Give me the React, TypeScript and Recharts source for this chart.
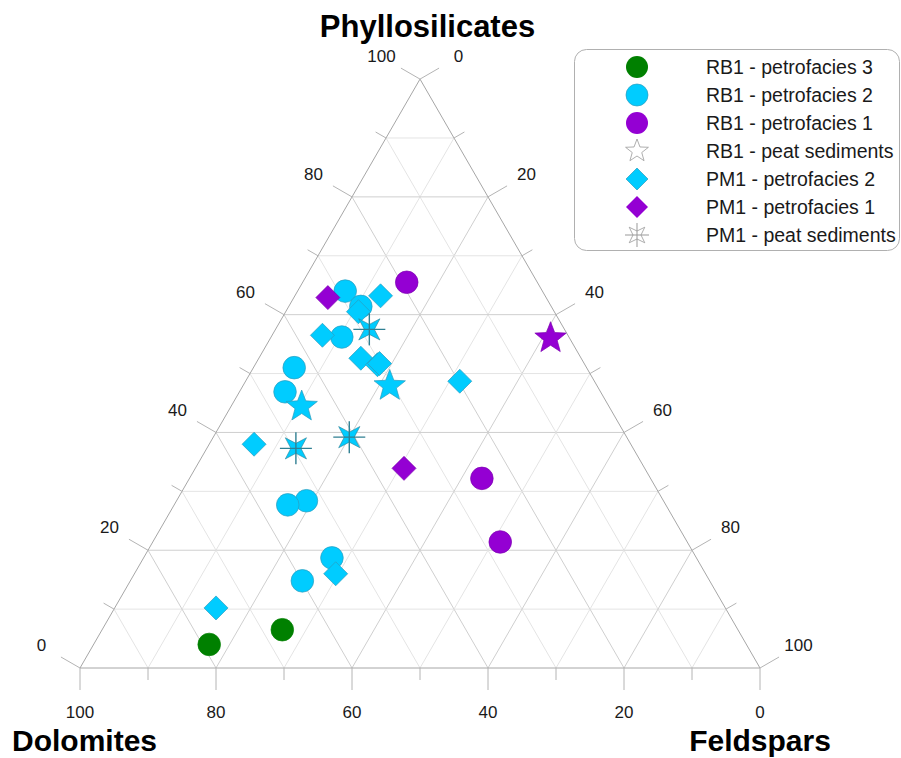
import React from "react";
import { ScatterChart, Scatter, XAxis, YAxis, ReferenceLine } from "recharts";

// samples as [dolomites, feldspars, phyllosilicates] in %
const rb1Petrofacies3 = [
  [79, 17, 4],
  [67, 26.5, 6.5],
];
const rb1Petrofacies2 = [
  [29, 7, 64],
  [28, 10.6, 61.4],
  [33.4, 10.4, 56.2],
  [43, 6, 51],
  [46.4, 6.7, 46.9],
  [52.5, 19.1, 28.4],
  [55.6, 16.7, 27.7],
  [53.6, 27.7, 18.7],
  [59.9, 25.3, 14.8],
];
const rb1Petrofacies1 = [
  [19.2, 15.3, 65.5],
  [24.8, 43, 32.2],
  [27.5, 51.1, 21.4],
];
// RB1 peat sediments, split by the colour of the facies they sit in
const rb1PeatViolet = [[2.8, 41.2, 56]];
const rb1PeatCyan = [
  [45.2, 10.4, 44.4],
  [30.5, 21.6, 47.9],
];
const pm1Petrofacies2 = [
  [24.2, 12.6, 63.2],
  [28.8, 10.7, 60.5],
  [36.1, 7.4, 56.5],
  [32.4, 15, 52.6],
  [30.5, 18, 51.5],
  [30.1, 18.2, 51.7],
  [19.8, 31.5, 48.7],
  [55.4, 6.6, 38],
  [54.4, 29.6, 16],
  [74.9, 14.9, 10.2],
];
const pm1Petrofacies1 = [
  [32.1, 5, 62.9],
  [35.4, 30.7, 33.9],
];
const pm1Peat = [
  [28.7, 13.8, 57.5],
  [40.8, 20, 39.2],
  [49.6, 13.1, 37.3],
];

const gridSteps = [10, 20, 30, 40, 50, 60, 70, 80, 90];
const tickSteps = [0, 10, 20, 30, 40, 50, 60, 70, 80, 90, 100];
const tickLabels = [0, 20, 40, 60, 80, 100];

const legendLabels = [
  "RB1 - petrofacies 3",
  "RB1 - petrofacies 2",
  "RB1 - petrofacies 1",
  "RB1 - peat sediments",
  "PM1 - petrofacies 2",
  "PM1 - petrofacies 1",
  "PM1 - peat sediments",
];

const W = 901;
const H = 758;
const PX = 6.8; // px per percent
const X0 = 80;
const Y0 = 668;
const S3 = Math.sqrt(3) / 2;
const FONT = "'Liberation Sans', Arial, sans-serif";

const GREEN = "#008000";
const CYAN = "#00ccff";
const VIOLET = "#9400d3";
const CYAN_EDGE = "#2b9cbd";
const VIOLET_EDGE = "#7d00b0";

const xy = (d: number, f: number, p: number) => ({ x: f + p / 2, y: p * S3 });
const toPoints = (rows: number[][]) => rows.map(([d, f, p]) => xy(d, f, p));

const starPoints = (cx: number, cy: number, n: number, R: number, r: number, rot = -90) => {
  const pts: string[] = [];
  for (let i = 0; i < n * 2; i++) {
    const a = ((rot + (i * 180) / n) * Math.PI) / 180;
    const rad = i % 2 === 0 ? R : r;
    pts.push(`${cx + rad * Math.cos(a)},${cy + rad * Math.sin(a)}`);
  }
  return pts.join(" ");
};

const circleShape = (fill: string, stroke: string) => (p: any) => (
  <circle cx={p.cx} cy={p.cy} r={11.3} fill={fill} stroke={stroke} strokeWidth={0.7} />
);
const diamondShape = (fill: string, stroke: string) => (p: any) => (
  <polygon
    points={`${p.cx},${p.cy - 12} ${p.cx + 12},${p.cy} ${p.cx},${p.cy + 12} ${p.cx - 12},${p.cy}`}
    fill={fill}
    stroke={stroke}
    strokeWidth={0.7}
  />
);
const starShape = (fill: string, stroke: string) => (p: any) => (
  <polygon points={starPoints(p.cx, p.cy, 5, 16.5, 7)} fill={fill} stroke={stroke} strokeWidth={0.7} />
);
const spikeStar = (cx: number, cy: number, fill: string, line: string) => (
  <g>
    <polygon points={starPoints(cx, cy, 4, 15, 5, -45)} fill={fill} stroke={line} strokeWidth={0.6} />
    <line x1={cx - 16} y1={cy} x2={cx + 16} y2={cy} stroke={line} strokeWidth={1.4} />
    <line x1={cx} y1={cy - 16} x2={cx} y2={cy + 16} stroke={line} strokeWidth={1.4} />
  </g>
);
const spikeShape = (p: any) => spikeStar(p.cx, p.cy, CYAN, "#2f7f92");

// grid segments
const gridLines: { a: { x: number; y: number }; b: { x: number; y: number }; v: number }[] = [];
gridSteps.forEach((v) => {
  gridLines.push({ a: xy(100 - v, 0, v), b: xy(0, 100 - v, v), v }); // const phyllo
  gridLines.push({ a: xy(100 - v, v, 0), b: xy(0, v, 100 - v), v }); // const feldspar
  gridLines.push({ a: xy(v, 100 - v, 0), b: xy(v, 0, 100 - v), v }); // const dolomite
});
const outline = [
  [xy(100, 0, 0), xy(0, 100, 0)],
  [xy(100, 0, 0), xy(0, 0, 100)],
  [xy(0, 100, 0), xy(0, 0, 100)],
];

// axis ticks: base point + outward direction
const MAJOR = 22 / PX;
const MINOR = 12 / PX;
const LABEL_OFF = 44.5 / PX;
const axisDefs = [
  { base: (v: number) => xy(v, 100 - v, 0), dir: { x: 0, y: -1 }, off: 44 / PX },
  { base: (v: number) => xy(100 - v, 0, v), dir: { x: -S3, y: 0.5 }, off: LABEL_OFF },
  { base: (v: number) => xy(0, v, 100 - v), dir: { x: S3, y: 0.5 }, off: LABEL_OFF },
];
const tickLines = axisDefs.flatMap((ax) =>
  tickSteps.map((v) => {
    const b = ax.base(v);
    const len = v % 20 === 0 ? MAJOR : MINOR;
    return { a: b, b: { x: b.x + ax.dir.x * len, y: b.y + ax.dir.y * len } };
  })
);
const labelData = axisDefs.flatMap((ax) =>
  tickLabels.map((v) => {
    const b = ax.base(v);
    return { x: b.x + ax.dir.x * ax.off, y: b.y + ax.dir.y * ax.off, label: String(v) };
  })
);

const labelShape = (p: any) => (
  <text
    x={p.cx}
    y={p.cy}
    textAnchor="middle"
    dominantBaseline="central"
    fontFamily={FONT}
    fontSize={17}
    fill="#1a1a1a"
  >
    {p.payload.label}
  </text>
);

const legendIcon = (i: number, cx: number, cy: number) => {
  switch (i) {
    case 0:
      return <circle cx={cx} cy={cy} r={11} fill={GREEN} />;
    case 1:
      return <circle cx={cx} cy={cy} r={11} fill={CYAN} stroke={CYAN_EDGE} strokeWidth={0.7} />;
    case 2:
      return <circle cx={cx} cy={cy} r={11} fill={VIOLET} />;
    case 3:
      return <polygon points={starPoints(cx, cy, 5, 12, 5)} fill="#fff" stroke="#999" strokeWidth={0.8} />;
    case 4:
      return (
        <polygon
          points={`${cx},${cy - 11} ${cx + 11},${cy} ${cx},${cy + 11} ${cx - 11},${cy}`}
          fill={CYAN}
          stroke={CYAN_EDGE}
          strokeWidth={0.7}
        />
      );
    case 5:
      return (
        <polygon
          points={`${cx},${cy - 11} ${cx + 11},${cy} ${cx},${cy + 11} ${cx - 11},${cy}`}
          fill={VIOLET}
        />
      );
    default:
      return (
        <g>
          <polygon points={starPoints(cx, cy, 4, 11, 4, -45)} fill="#fff" stroke="#999" strokeWidth={0.8} />
          <line x1={cx - 12} y1={cy} x2={cx + 12} y2={cy} stroke="#999" strokeWidth={1} />
          <line x1={cx} y1={cy - 12} x2={cx} y2={cy + 12} stroke="#999" strokeWidth={1} />
        </g>
      );
  }
};

export default function App() {
  return (
    <div style={{ position: "absolute", left: 0, top: 0, width: W, height: H, background: "#fff" }}>
      <ScatterChart width={W} height={H} margin={{ top: 0, right: 0, bottom: 0, left: 0 }}>
        <XAxis type="number" dataKey="x" domain={[-X0 / PX, (W - X0) / PX]} hide allowDataOverflow />
        <YAxis type="number" dataKey="y" domain={[-(H - Y0) / PX, Y0 / PX]} hide allowDataOverflow />
        {gridLines.map((g, i) => (
          <ReferenceLine
            key={`g${i}`}
            segment={[g.a, g.b]}
            stroke={g.v % 20 === 0 ? "#cfcfcf" : "#e4e4e4"}
            strokeWidth={1}
            ifOverflow="visible"
          />
        ))}
        {outline.map((s, i) => (
          <ReferenceLine key={`o${i}`} segment={s} stroke="#a6a6a6" strokeWidth={1} ifOverflow="visible" />
        ))}
        {tickLines.map((t, i) => (
          <ReferenceLine key={`t${i}`} segment={[t.a, t.b]} stroke="#b4b4b4" strokeWidth={1} ifOverflow="visible" />
        ))}
        <Scatter data={labelData} shape={labelShape} isAnimationActive={false} />
        <Scatter data={toPoints(rb1Petrofacies3)} shape={circleShape(GREEN, GREEN)} isAnimationActive={false} />
        <Scatter data={toPoints(rb1Petrofacies2)} shape={circleShape(CYAN, CYAN_EDGE)} isAnimationActive={false} />
        <Scatter data={toPoints(rb1Petrofacies1)} shape={circleShape(VIOLET, VIOLET_EDGE)} isAnimationActive={false} />
        <Scatter data={toPoints(pm1Petrofacies2)} shape={diamondShape(CYAN, CYAN_EDGE)} isAnimationActive={false} />
        <Scatter data={toPoints(pm1Petrofacies1)} shape={diamondShape(VIOLET, VIOLET_EDGE)} isAnimationActive={false} />
        <Scatter data={toPoints(rb1PeatViolet)} shape={starShape(VIOLET, VIOLET_EDGE)} isAnimationActive={false} />
        <Scatter data={toPoints(rb1PeatCyan)} shape={starShape(CYAN, CYAN_EDGE)} isAnimationActive={false} />
        <Scatter data={toPoints(pm1Peat)} shape={spikeShape} isAnimationActive={false} />
      </ScatterChart>

      <svg
        width={W}
        height={H}
        style={{ position: "absolute", left: 0, top: 0, pointerEvents: "none" }}
        fontFamily={FONT}
      >
        <text x={427.5} y={37} textAnchor="middle" fontSize={31} fontWeight="bold" fill="#000">
          Phyllosilicates
        </text>
        <text x={12} y={751} fontSize={30} fontWeight="bold" fill="#000">
          Dolomites
        </text>
        <text x={760} y={751} textAnchor="middle" fontSize={30} fontWeight="bold" fill="#000">
          Feldspars
        </text>

        <rect x={574.5} y={49.5} width={325} height={201} rx={12} fill="#fff" stroke="#b0b0b0" />
        {legendLabels.map((l, i) => {
          const cy = 67 + i * 28;
          return (
            <g key={l}>
              {legendIcon(i, 637, cy)}
              <text x={706} y={cy} dominantBaseline="central" fontSize={19.5} fill="#1a1a1a">
                {l}
              </text>
            </g>
          );
        })}
      </svg>
    </div>
  );
}
